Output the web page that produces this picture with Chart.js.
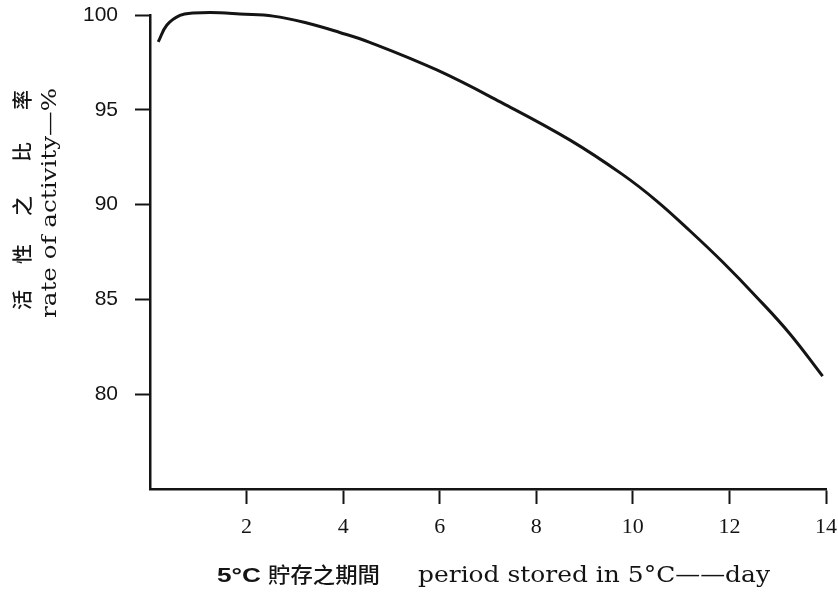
<!DOCTYPE html>
<html>
<head>
<meta charset="utf-8">
<script src="https://cdn.jsdelivr.net/npm/chart.js@4.4.1/dist/chart.umd.min.js"></script>
<style>
  html, body { margin: 0; padding: 0; background: #ffffff; }
  #wrap { width: 838px; height: 592px; position: relative; }
</style>
</head>
<body>
<div id="wrap"><canvas id="c" width="838" height="592"></canvas></div>
<script>
// ---- data ----
const days = [0.17, 0.35, 0.62, 0.89, 1.45, 1.86, 2.55, 3.25, 3.93, 4.55, 5.94, 7.31, 8.70, 9.79, 10.49, 11.18, 11.86, 12.56, 13.25, 13.93];
const activity = [98.58, 99.47, 99.98, 100.1, 100.12, 100.05, 99.94, 99.58, 99.08, 98.56, 97.10, 95.34, 93.40, 91.58, 90.20, 88.62, 86.97, 85.13, 83.19, 80.95];
const xTickValues = [2, 4, 6, 8, 10, 12, 14];
const yTickValues = [80, 85, 90, 95, 100];
const yTitleZh = ['活', '性', '之', '比', '率'];
const yTitleEn = 'rate of activity—%';
const xTitleNum = '5°C';
const xTitleZh = '貯存之期間';
const xTitleEn = 'period stored in 5°C——day';

const points = days.map((d, i) => ({ x: d, y: activity[i] }));
const INK = '#141414';

function fitText(ctx, text, x, y, width) {
  const w = ctx.measureText(text).width;
  ctx.save();
  ctx.translate(x, y);
  ctx.scale(width / w, 1);
  ctx.fillText(text, 0, 0);
  ctx.restore();
}

const titlePlugin = {
  id: 'axisTitles',
  afterDraw(chart) {
    const ctx = chart.ctx;
    ctx.save();
    ctx.fillStyle = INK;
    // x-axis title
    ctx.textBaseline = 'alphabetic';
    ctx.textAlign = 'left';
    ctx.font = 'bold 21px "Liberation Sans", Arial, sans-serif';
    fitText(ctx, xTitleNum, 217, 582, 44);
    ctx.font = '500 21px "Noto Sans CJK TC", "Noto Sans CJK SC", sans-serif';
    fitText(ctx, xTitleZh, 268, 582, 112);
    ctx.font = '22px "DejaVu Serif", serif';
    fitText(ctx, xTitleEn, 418, 582, 352);

    // y-axis title (rotated)
    ctx.save();
    ctx.translate(56, 318);
    ctx.rotate(-Math.PI / 2);
    ctx.font = '21px "DejaVu Serif", serif';
    fitText(ctx, yTitleEn, 0, 0, 230);
    ctx.restore();

    const zhCenters = [300, 254, 206, 152, 100];
    ctx.font = '500 20px "Noto Sans CJK TC", "Noto Sans CJK SC", sans-serif';
    ctx.textAlign = 'center';
    ctx.textBaseline = 'middle';
    yTitleZh.forEach((ch, i) => {
      ctx.save();
      ctx.translate(22, zhCenters[i]);
      ctx.rotate(-Math.PI / 2);
      ctx.fillText(ch, 0, 0);
      ctx.restore();
    });
    ctx.restore();
  }
};

new Chart(document.getElementById('c'), {
  type: 'line',
  data: {
    datasets: [{
      data: points,
      borderColor: INK,
      borderWidth: 3,
      pointRadius: 0,
      fill: false,
      tension: 0.4,
      clip: false
    }]
  },
  options: {
    responsive: false,
    animation: false,
    devicePixelRatio: 1,
    layout: { padding: { top: 15, right: 12, left: 0, bottom: 0 } },
    plugins: { legend: { display: false }, tooltip: { enabled: false } },
    scales: {
      x: {
        type: 'linear',
        min: 0,
        max: 14,
        afterBuildTicks: s => { s.ticks = xTickValues.map(v => ({ value: v })); },
        afterFit: s => { s.height = 103; s.paddingLeft = 0; s.paddingRight = 0; },
        grid: { drawOnChartArea: false, drawTicks: true, tickLength: 15, tickWidth: 2, color: INK },
        border: { display: true, color: INK, width: 2.5 },
        ticks: {
          color: INK,
          padding: 10,
          maxRotation: 0,
          font: { family: '"Liberation Serif", serif', size: 22 }
        }
      },
      y: {
        type: 'linear',
        min: 75,
        max: 100,
        afterBuildTicks: s => { s.ticks = yTickValues.map(v => ({ value: v })); },
        afterFit: s => { s.width = 150; s.paddingTop = 0; s.paddingBottom = 0; },
        grid: { drawOnChartArea: false, drawTicks: true, tickLength: 15, tickWidth: 2, color: INK },
        border: { display: true, color: INK, width: 2.5 },
        ticks: {
          color: INK,
          padding: 17,
          font: { family: '"Liberation Sans", Arial, sans-serif', size: 21 }
        }
      }
    }
  },
  plugins: [titlePlugin]
});
</script>
</body>
</html>
